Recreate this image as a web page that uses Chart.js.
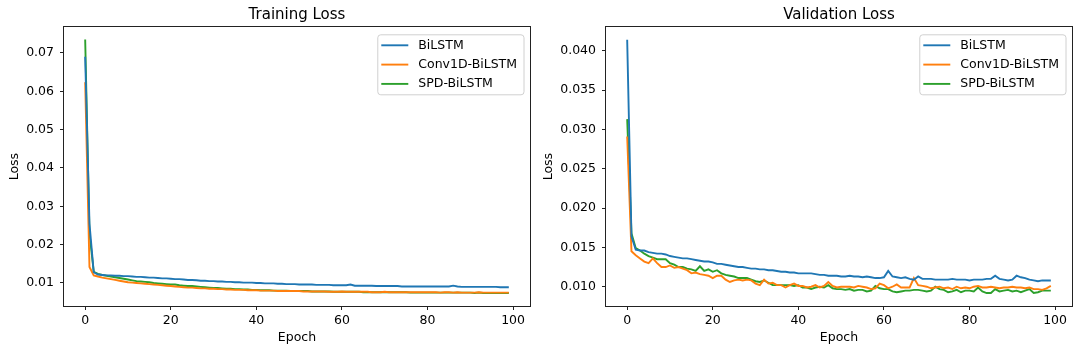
<!DOCTYPE html>
<html>
<head>
<meta charset="utf-8">
<script src="https://cdn.jsdelivr.net/npm/chart.js@4/dist/chart.umd.min.js"></script>
<style>
  html, body { margin: 0; padding: 0; background: #fff; }
  .wrap { position: relative; width: 1080px; height: 354px; }
  canvas { position: absolute; top: 0; }
  #train-chart { left: 0; }
  #val-chart { left: 540px; }
</style>
</head>
<body>
<div class="wrap">
  <canvas id="train-chart" width="540" height="354"></canvas>
  <canvas id="val-chart" width="540" height="354"></canvas>
</div>
<script>
// Data (epochs 0..99)
const seriesNames = ['BiLSTM', 'Conv1D-BiLSTM', 'SPD-BiLSTM'];
const seriesColors = ['#1f77b4', '#ff7f0e', '#2ca02c'];
const xTicks = [0, 20, 40, 60, 80, 100];
const trainYTicks = [0.01, 0.02, 0.03, 0.04, 0.05, 0.06, 0.07];
const valYTicks = [0.010, 0.015, 0.020, 0.025, 0.030, 0.035, 0.040];
const epochs = Array.from({ length: 100 }, (_, i) => i);

const trainBilstm = [
  0.0690, 0.0255, 0.0128, 0.0122, 0.0121, 0.0120, 0.0120, 0.0119, 0.0119, 0.0118,
  0.0118, 0.0117, 0.0116, 0.0116, 0.0115, 0.0114, 0.0114, 0.0113, 0.0112, 0.0112,
  0.0111, 0.0110, 0.0110, 0.0109, 0.0108, 0.0108, 0.0107, 0.0106, 0.0106, 0.0105,
  0.0105, 0.0104, 0.0104, 0.0103, 0.0103, 0.0102, 0.0102, 0.0101, 0.0101, 0.0101,
  0.0100, 0.0100, 0.0099, 0.0099, 0.0099, 0.0098, 0.0098, 0.0097, 0.0097, 0.0097,
  0.0096, 0.0096, 0.0096, 0.0096, 0.0095, 0.0095, 0.0095, 0.0095, 0.0094, 0.0094,
  0.0094, 0.0094, 0.0096, 0.0093, 0.0093, 0.0093, 0.0093, 0.0093, 0.0092, 0.0092,
  0.0092, 0.0092, 0.0092, 0.0092, 0.0091, 0.0091, 0.0091, 0.0091, 0.0091, 0.0091,
  0.0091, 0.0091, 0.0091, 0.0091, 0.0091, 0.0091, 0.0093, 0.0091, 0.0090, 0.0090,
  0.0090, 0.0090, 0.0090, 0.0090, 0.0090, 0.0090, 0.0090, 0.0089, 0.0089, 0.0089
];
const trainConv = [
  0.0624, 0.0142, 0.0120, 0.0117, 0.0114, 0.0112, 0.0110, 0.0108, 0.0106, 0.0104,
  0.0102, 0.0101, 0.0100, 0.0099, 0.0098, 0.0097, 0.0096, 0.0095, 0.0094, 0.0093,
  0.0092, 0.0091, 0.0090, 0.0089, 0.0088, 0.0088, 0.0087, 0.0086, 0.0086, 0.0085,
  0.0085, 0.0084, 0.0084, 0.0083, 0.0083, 0.0082, 0.0082, 0.0082, 0.0081, 0.0081,
  0.0081, 0.0080, 0.0080, 0.0080, 0.0080, 0.0079, 0.0079, 0.0079, 0.0079, 0.0079,
  0.0079, 0.0078, 0.0078, 0.0078, 0.0078, 0.0078, 0.0078, 0.0077, 0.0077, 0.0077,
  0.0078, 0.0077, 0.0077, 0.0077, 0.0077, 0.0077, 0.0077, 0.0076, 0.0076, 0.0076,
  0.0077, 0.0076, 0.0076, 0.0076, 0.0076, 0.0076, 0.0076, 0.0076, 0.0076, 0.0076,
  0.0076, 0.0076, 0.0076, 0.0075, 0.0076, 0.0076, 0.0075, 0.0076, 0.0075, 0.0075,
  0.0075, 0.0075, 0.0076, 0.0075, 0.0075, 0.0075, 0.0075, 0.0075, 0.0075, 0.0075
];
const trainSpd = [
  0.0735, 0.0230, 0.0129, 0.0124, 0.0121, 0.0119, 0.0117, 0.0115, 0.0113, 0.0111,
  0.0109, 0.0107, 0.0105, 0.0104, 0.0103, 0.0102, 0.0100, 0.0099, 0.0098, 0.0097,
  0.0096, 0.0096, 0.0094, 0.0093, 0.0092, 0.0092, 0.0091, 0.0090, 0.0089, 0.0088,
  0.0087, 0.0087, 0.0086, 0.0085, 0.0085, 0.0084, 0.0084, 0.0083, 0.0083, 0.0082,
  0.0082, 0.0081, 0.0081, 0.0081, 0.0080, 0.0080, 0.0080, 0.0080, 0.0079, 0.0079,
  0.0079, 0.0079, 0.0079, 0.0078, 0.0078, 0.0078, 0.0078, 0.0078, 0.0077, 0.0077,
  0.0077, 0.0077, 0.0077, 0.0077, 0.0077, 0.0076, 0.0076, 0.0076, 0.0076, 0.0076,
  0.0076, 0.0076, 0.0076, 0.0076, 0.0076, 0.0076, 0.0075, 0.0075, 0.0075, 0.0075,
  0.0075, 0.0075, 0.0075, 0.0075, 0.0075, 0.0075, 0.0075, 0.0075, 0.0075, 0.0075,
  0.0075, 0.0074, 0.0075, 0.0074, 0.0074, 0.0074, 0.0074, 0.0074, 0.0074, 0.0074
];

const valBilstm = [
  0.0414, 0.0164, 0.0147, 0.0146, 0.0146, 0.0144, 0.0143, 0.0142, 0.0142, 0.0141,
  0.0139, 0.0138, 0.0137, 0.0136, 0.0136, 0.0135, 0.0134, 0.0133, 0.0132, 0.0132,
  0.0131, 0.0129, 0.0129, 0.0128, 0.0127, 0.0126, 0.0125, 0.0125, 0.0124, 0.0123,
  0.0123, 0.0122, 0.0122, 0.0121, 0.0121, 0.0120, 0.0119, 0.0119, 0.0118, 0.0118,
  0.0117, 0.0117, 0.0117, 0.0117, 0.0116, 0.0115, 0.0115, 0.0114, 0.0114, 0.0114,
  0.0113, 0.0113, 0.0114, 0.0113, 0.0113, 0.0112, 0.0113, 0.0112, 0.0111, 0.0111,
  0.0112, 0.0120, 0.0113, 0.0112, 0.0111, 0.0112, 0.0110, 0.0109, 0.0113, 0.0110,
  0.0110, 0.0110, 0.0109, 0.0109, 0.0109, 0.0109, 0.0110, 0.0109, 0.0109, 0.0109,
  0.0108, 0.0109, 0.0109, 0.0109, 0.0110, 0.0110, 0.0114, 0.0110, 0.0109, 0.0108,
  0.0109, 0.0114, 0.0112, 0.0111, 0.0109, 0.0108, 0.0107, 0.0108, 0.0108, 0.0108
];
const valConv = [
  0.0291, 0.0145, 0.0140, 0.0136, 0.0132, 0.0130, 0.0136, 0.0130, 0.0125, 0.0125,
  0.0127, 0.0124, 0.0125, 0.0123, 0.0121, 0.0117, 0.0118, 0.0116, 0.0115, 0.0114,
  0.0111, 0.0114, 0.0114, 0.0109, 0.0106, 0.0108, 0.0109, 0.0108, 0.0109, 0.0108,
  0.0104, 0.0102, 0.0109, 0.0104, 0.0105, 0.0102, 0.0102, 0.0099, 0.0102, 0.0104,
  0.0101, 0.0101, 0.0099, 0.0100, 0.0102, 0.0099, 0.0101, 0.0106, 0.0101, 0.0099,
  0.0100, 0.0100, 0.0100, 0.0099, 0.0101, 0.0100, 0.0099, 0.0097, 0.0098, 0.0104,
  0.0102, 0.0098, 0.0100, 0.0103, 0.0099, 0.0099, 0.0099, 0.0111, 0.0102, 0.0101,
  0.0100, 0.0098, 0.0099, 0.0100, 0.0098, 0.0099, 0.0097, 0.0100, 0.0098, 0.0099,
  0.0098, 0.0100, 0.0101, 0.0099, 0.0099, 0.0100, 0.0099, 0.0098, 0.0099, 0.0099,
  0.0100, 0.0099, 0.0099, 0.0098, 0.0099, 0.0097, 0.0097, 0.0096, 0.0098, 0.0101
];
const valSpd = [
  0.0313, 0.0168, 0.0149, 0.0146, 0.0142, 0.0139, 0.0137, 0.0135, 0.0135, 0.0135,
  0.0130, 0.0128, 0.0125, 0.0125, 0.0123, 0.0122, 0.0120, 0.0126, 0.0120, 0.0122,
  0.0119, 0.0121, 0.0117, 0.0115, 0.0114, 0.0113, 0.0111, 0.0111, 0.0111, 0.0109,
  0.0107, 0.0106, 0.0108, 0.0105, 0.0102, 0.0102, 0.0102, 0.0102, 0.0102, 0.0101,
  0.0102, 0.0099, 0.0099, 0.0097, 0.0099, 0.0100, 0.0099, 0.0102, 0.0098, 0.0097,
  0.0097, 0.0096, 0.0097, 0.0095, 0.0096, 0.0096, 0.0094, 0.0095, 0.0101, 0.0098,
  0.0097, 0.0097, 0.0094, 0.0093, 0.0094, 0.0095, 0.0095, 0.0096, 0.0096, 0.0095,
  0.0094, 0.0095, 0.0100, 0.0097, 0.0096, 0.0093, 0.0094, 0.0096, 0.0093, 0.0095,
  0.0095, 0.0094, 0.0099, 0.0094, 0.0092, 0.0092, 0.0097, 0.0094, 0.0095, 0.0096,
  0.0094, 0.0095, 0.0093, 0.0095, 0.0097, 0.0092, 0.0093, 0.0095, 0.0095, 0.0095
];

Chart.defaults.font.family = '"DejaVu Sans", sans-serif';
Chart.defaults.font.size = 12.5;
Chart.defaults.color = '#000';

// axes frame (all four spines) + matplotlib-like legend box in the upper right
const framePlugin = {
  id: 'frame',
  afterDraw(chart) {
    const { ctx, chartArea: a } = chart;
    ctx.save();
    ctx.strokeStyle = '#222';
    ctx.lineWidth = 1;
    ctx.strokeRect(Math.round(a.left) - 0.5, Math.round(a.top) - 0.5,
      Math.round(a.right - a.left) + 1, Math.round(a.bottom - a.top) + 1);

    ctx.font = '12.5px "DejaVu Sans"';
    const textW = Math.max(...seriesNames.map(n => ctx.measureText(n).width));
    const w = 41 + textW + 6.5, h = 60;
    const x = a.right - 6.5 - w, y = a.top + 7;
    ctx.beginPath();
    ctx.roundRect(x + 0.5, y + 0.5, w, h, 3);
    ctx.fillStyle = 'rgba(255,255,255,0.8)';
    ctx.fill();
    ctx.strokeStyle = '#d0d0d0';
    ctx.stroke();
    ctx.textBaseline = 'middle';
    chart.data.datasets.forEach((ds, i) => {
      const ry = y + 11 + i * 19.3;
      ctx.beginPath();
      ctx.moveTo(x + 4, ry);
      ctx.lineTo(x + 31, ry);
      ctx.strokeStyle = ds.borderColor;
      ctx.lineWidth = 1.9;
      ctx.stroke();
      ctx.fillStyle = '#000';
      ctx.fillText(ds.label, x + 41, ry);
    });
    ctx.restore();
  }
};

function makeChart(id, title, series, yMin, yMax, yTicks, decimals, yWidth, yTitlePad, padRight) {
  return new Chart(document.getElementById(id).getContext('2d'), {
    type: 'line',
    data: {
      datasets: series.map((vals, i) => ({
        label: seriesNames[i],
        data: epochs.map((e, j) => ({ x: e, y: vals[j] })),
        borderColor: seriesColors[i],
        backgroundColor: seriesColors[i],
        borderWidth: 1.9,
        pointRadius: 0,
        tension: 0,
        fill: false
      }))
    },
    options: {
      responsive: false,
      animation: false,
      devicePixelRatio: 1,
      layout: { padding: { left: 0, right: padRight, top: 0, bottom: 0 } },
      plugins: {
        legend: { display: false },
        tooltip: { enabled: false },
        title: {
          display: true,
          text: title,
          fullSize: false,
          color: '#000',
          font: { size: 15, weight: 'normal' },
          padding: { top: 6, bottom: 3.3 }
        }
      },
      scales: {
        x: {
          type: 'linear',
          min: -4.95,
          max: 103.95,
          afterBuildTicks: axis => { axis.ticks = xTicks.map(v => ({ value: v })); },
          afterFit: axis => { axis.height = 48; },
          ticks: { padding: 3, color: '#000', callback: v => String(v), maxRotation: 0 },
          grid: { drawOnChartArea: false, drawTicks: true, tickLength: 4, color: '#222' },
          border: { display: false },
          title: { display: true, text: 'Epoch', color: '#000', padding: { top: 0, bottom: 9 } }
        },
        y: {
          min: yMin,
          max: yMax,
          afterBuildTicks: axis => { axis.ticks = yTicks.map(v => ({ value: v })); },
          afterFit: axis => { axis.width = yWidth; },
          ticks: { padding: 6, color: '#000', callback: v => v.toFixed(decimals) },
          grid: { drawOnChartArea: false, drawTicks: true, tickLength: 4, color: '#222' },
          border: { display: false },
          title: { display: true, text: 'Loss', color: '#000', padding: { top: yTitlePad, bottom: 0 } }
        }
      }
    },
    plugins: [framePlugin]
  });
}

makeChart('train-chart', 'Training Loss', [trainBilstm, trainConv, trainSpd],
  0.0040, 0.0767, trainYTicks, 2, 64, 7, 10);
makeChart('val-chart', 'Validation Loss', [valBilstm, valConv, valSpd],
  0.00755, 0.04297, valYTicks, 3, 66, 1, 8);
</script>
</body>
</html>
